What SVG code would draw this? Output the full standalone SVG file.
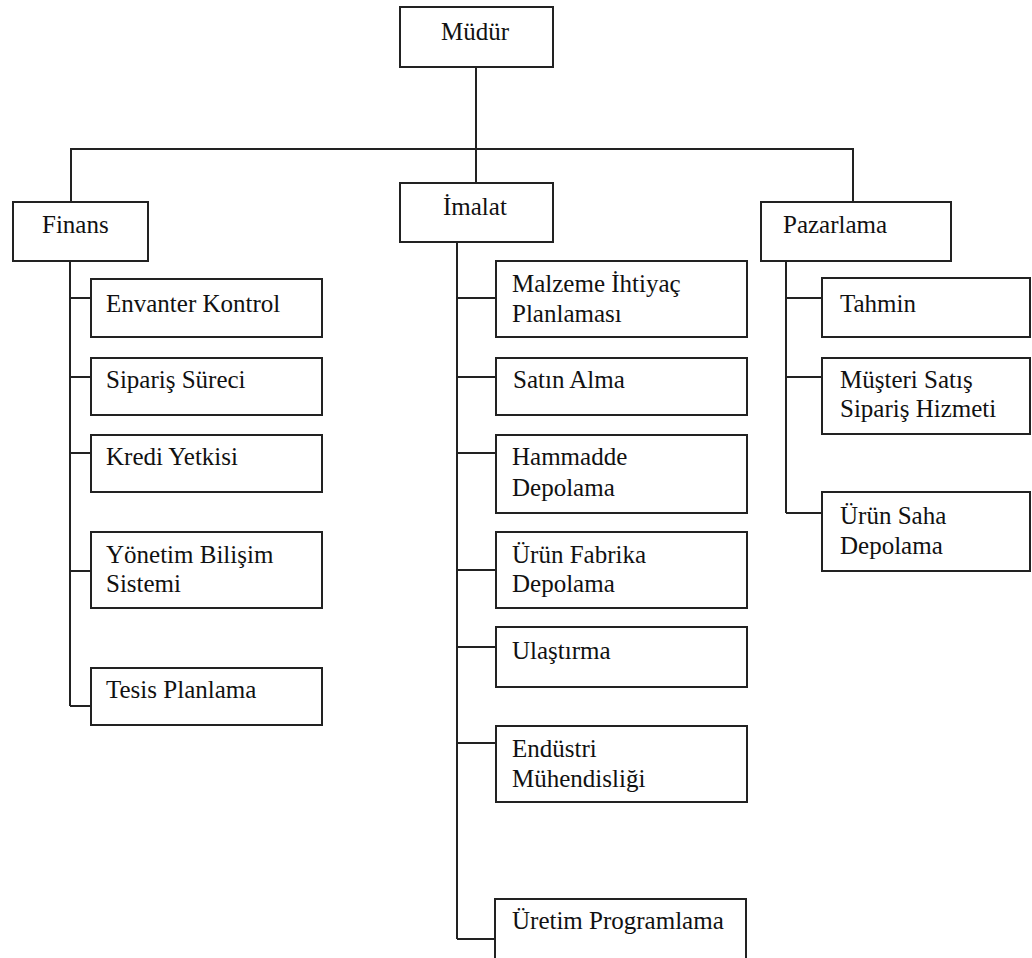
<svg xmlns="http://www.w3.org/2000/svg" width="1032" height="958" viewBox="0 0 1032 958" font-family="Liberation Serif, DejaVu Serif, serif">
<style>
rect.b{fill:#fff;stroke:#222;stroke-width:2}
text{font-family:'Liberation Serif','DejaVu Serif',serif;font-size:25px;fill:#111}
#connectors path{fill:none;stroke:#222;stroke-width:2}
</style>
<rect width="1032" height="958" fill="#fff"/>
<g id="connectors">
<path d="M476 67V183M71 202V149H853V202"/>
<path d="M70 261V706M70 298H91M70 377H91M70 453H91M70 571H91M70 706H91"/>
<path d="M457 242V939M457 298H496M457 377H496M457 453H496M457 570H496M457 647H496M457 743H496M457 939H496"/>
<path d="M786 261V513M786 298H822M786 377H822M786 513H822"/>
</g>
<g id="mudur"><rect class="b" x="400" y="7" width="153" height="60"/><text x="441" y="40">Müdür</text></g>
<g id="finans"><rect class="b" x="13" y="202" width="135" height="59"/><text x="42" y="233">Finans</text></g>
<g id="imalat"><rect class="b" x="400" y="183" width="153" height="59"/><text x="443" y="215">İmalat</text></g>
<g id="pazarlama"><rect class="b" x="761" y="202" width="190" height="59"/><text x="783" y="233">Pazarlama</text></g>

<g id="envanter"><rect class="b" x="91" y="279" width="231" height="58"/><text x="106" y="312">Envanter Kontrol</text></g>
<g id="siparis"><rect class="b" x="91" y="358" width="231" height="57"/><text x="106" y="388">Sipariş Süreci</text></g>
<g id="kredi"><rect class="b" x="91" y="435" width="231" height="57"/><text x="106" y="465">Kredi Yetkisi</text></g>
<g id="ybs"><rect class="b" x="91" y="532" width="231" height="76"/><text x="106" y="563">Yönetim Bilişim</text><text x="106" y="592">Sistemi</text></g>
<g id="tesis"><rect class="b" x="91" y="668" width="231" height="57"/><text x="106" y="698">Tesis Planlama</text></g>

<g id="mip"><rect class="b" x="496" y="261" width="251" height="76"/><text x="512" y="292">Malzeme İhtiyaç</text><text x="512" y="322">Planlaması</text></g>
<g id="satin"><rect class="b" x="496" y="358" width="251" height="57"/><text x="513" y="388">Satın Alma</text></g>
<g id="hammadde"><rect class="b" x="496" y="435" width="251" height="78"/><text x="512" y="465">Hammadde</text><text x="512" y="496">Depolama</text></g>
<g id="urunfab"><rect class="b" x="496" y="532" width="251" height="76"/><text x="512" y="563">Ürün Fabrika</text><text x="512" y="592">Depolama</text></g>
<g id="ulastirma"><rect class="b" x="496" y="627" width="251" height="60"/><text x="512" y="659">Ulaştırma</text></g>
<g id="endustri"><rect class="b" x="496" y="726" width="251" height="76"/><text x="512" y="757">Endüstri</text><text x="512" y="787">Mühendisliği</text></g>
<g id="uretim"><rect class="b" x="495" y="899" width="251" height="70"/><text x="512" y="929">Üretim Programlama</text></g>

<g id="tahmin"><rect class="b" x="822" y="278" width="208" height="59"/><text x="840" y="312">Tahmin</text></g>
<g id="musteri"><rect class="b" x="822" y="358" width="208" height="76"/><text x="840" y="388">Müşteri Satış</text><text x="840" y="417">Sipariş Hizmeti</text></g>
<g id="urunsaha"><rect class="b" x="822" y="492" width="208" height="79"/><text x="840" y="524">Ürün Saha</text><text x="840" y="554">Depolama</text></g>
</svg>
